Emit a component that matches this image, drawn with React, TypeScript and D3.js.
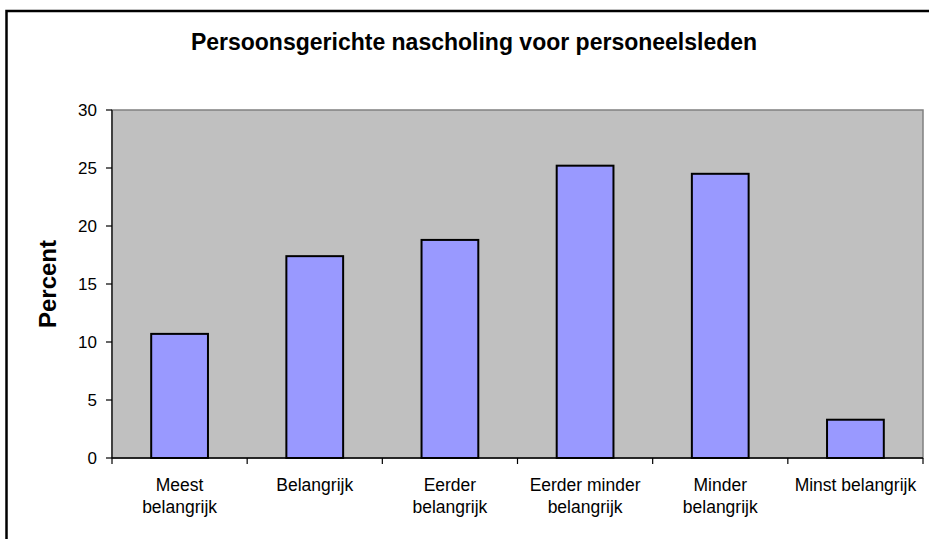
import React from 'react';
import * as d3 from 'd3';

// chart data
const categories = [
  'Meest belangrijk',
  'Belangrijk',
  'Eerder belangrijk',
  'Eerder minder belangrijk',
  'Minder belangrijk',
  'Minst belangrijk',
];
// how each category label breaks over lines
const categoryLines = [
  ['Meest', 'belangrijk'],
  ['Belangrijk'],
  ['Eerder', 'belangrijk'],
  ['Eerder minder', 'belangrijk'],
  ['Minder', 'belangrijk'],
  ['Minst belangrijk'],
];
const percentValues = [10.7, 17.4, 18.8, 25.2, 24.5, 3.3];
const yTicks = [0, 5, 10, 15, 20, 25, 30];

const title = 'Persoonsgerichte nascholing voor personeelsleden';
const yLabel = 'Percent';

const W = 929;
const H = 539;
const plot = { left: 112, right: 923, top: 110, bottom: 458 };

const App = () => {
  const x = d3
    .scaleBand<string>()
    .domain(categories)
    .range([plot.left, plot.right])
    .paddingInner(0.58)
    .paddingOuter(0.29);
  const step = x.step();
  const y = d3.scaleLinear().domain([0, 30]).range([plot.bottom, plot.top]);

  const font = 'Arial, "Liberation Sans", sans-serif';

  return (
    <svg
      width={W}
      height={H}
      style={{ position: 'absolute', left: 0, top: 0, background: '#fff' }}
      fontFamily={font}
    >
      {/* chart frame */}
      <rect x={6.5} y={11} width={940} height={540} fill="#fff" stroke="#000" strokeWidth={2.5} />

      <text x={474} y={50} textAnchor="middle" fontSize={23} fontWeight="bold" fill="#000">
        {title}
      </text>

      {/* plot area */}
      <rect
        x={plot.left}
        y={plot.top}
        width={plot.right - plot.left}
        height={plot.bottom - plot.top}
        fill="#C0C0C0"
        stroke="#808080"
        strokeWidth={1.5}
      />

      {/* bars */}
      {categories.map((c, i) => (
        <rect
          key={c}
          x={x(c)}
          y={y(percentValues[i])}
          width={x.bandwidth()}
          height={y(0) - y(percentValues[i])}
          fill="#9999FF"
          stroke="#000"
          strokeWidth={2}
        />
      ))}

      {/* y axis */}
      <line x1={plot.left} x2={plot.left} y1={plot.top} y2={plot.bottom} stroke="#404040" strokeWidth={2} />
      {yTicks.map((t) => (
        <g key={t}>
          <line x1={plot.left - 6} x2={plot.left} y1={y(t)} y2={y(t)} stroke="#000" strokeWidth={1.2} />
          <text x={97} y={y(t)} dy="0.35em" textAnchor="end" fontSize={17} fill="#000">
            {t}
          </text>
        </g>
      ))}
      <text
        transform={`translate(56,${(plot.top + plot.bottom) / 2}) rotate(-90)`}
        textAnchor="middle"
        fontSize={24}
        fontWeight="bold"
        fill="#000"
      >
        {yLabel}
      </text>

      {/* x axis */}
      <line x1={plot.left} x2={plot.right} y1={plot.bottom} y2={plot.bottom} stroke="#000" strokeWidth={1.5} />
      {d3.range(categories.length + 1).map((i) => {
        const tx = plot.left + i * step;
        return (
          <line key={i} x1={tx} x2={tx} y1={plot.bottom} y2={plot.bottom + 6} stroke="#000" strokeWidth={1.2} />
        );
      })}
      {categories.map((c, i) => {
        const cx = (x(c) ?? 0) + x.bandwidth() / 2;
        return (
          <text key={c} x={cx} y={491} textAnchor="middle" fontSize={17.5} fill="#000">
            {categoryLines[i].map((ln, j) => (
              <tspan key={j} x={cx} y={491 + j * 21.5}>
                {ln}
              </tspan>
            ))}
          </text>
        );
      })}
    </svg>
  );
};

export default App;
